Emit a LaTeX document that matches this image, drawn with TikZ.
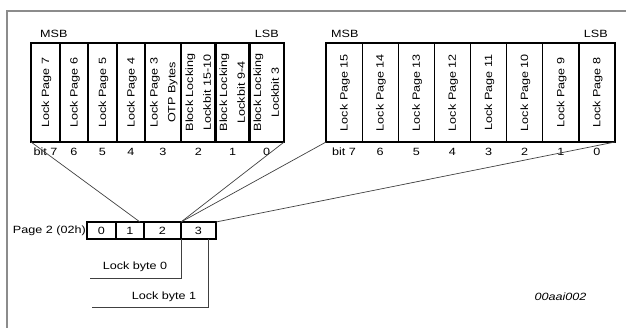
\documentclass[tikz,border=0pt]{standalone}
\usepackage{fontspec}
\setmainfont[FakeStretch=1.2]{Liberation Sans}
\usepackage{graphicx}
\tikzset{every node/.style={font=\fontsize{10.5}{12.6}\selectfont, inner sep=1pt},
  cell/.style={draw, line width=1.3pt, inner sep=0pt, outer sep=0pt, minimum height=99pt},
  bytecell/.style={draw, line width=1.3pt, inner sep=0pt, outer sep=0pt, minimum height=17pt},
  wire/.style={black!75, line width=0.7pt},
  frame/.style={black!45, line width=1.6pt}}
\newcommand\vlabel[1]{\rotatebox{90}{\renewcommand\arraystretch{1.4}\begin{tabular}{@{}c@{}}#1\end{tabular}}}

\begin{document}
\begin{tikzpicture}[x=1pt,y=-1pt]
  \useasboundingbox (0,0) rectangle (626,327);
  \draw[frame] (7,340) -- (7,11) -- (640,11);

  % lock byte 0
  \node[cell, minimum width=29pt] (l7) at ( 45.5,92.5) {\vlabel{Lock Page 7}};
  \node[cell, minimum width=28pt] (l6) at ( 74.0,92.5) {\vlabel{Lock Page 6}};
  \node[cell, minimum width=29pt] (l5) at (102.5,92.5) {\vlabel{Lock Page 5}};
  \node[cell, minimum width=28pt] (l4) at (131.0,92.5) {\vlabel{Lock Page 4}};
  \node[cell, minimum width=36pt] (l3) at (163.0,92.5) {\vlabel{Lock Page 3\\OTP Bytes}};
  \node[cell, minimum width=35pt] (l2) at (198.5,92.5) {\vlabel{Block Locking\\Lockbit 15-10}};
  \node[cell, minimum width=33pt] (l1) at (232.5,92.5) {\vlabel{Block Locking\\Lockbit 9-4}};
  \node[cell, minimum width=35pt] (l0) at (266.5,92.5) {\vlabel{Block Locking\\Lockbit 3}};
  \node[anchor=west, inner sep=0pt] (lmsb) at (40,34) {MSB};
  \node[anchor=east, inner sep=0pt] (llsb) at (279,34) {LSB};
  \node (bl7) at (l7 |- 0,152) {bit 7};
  \node (bl6) at (l6 |- 0,152) {6};
  \node (bl5) at (l5 |- 0,152) {5};
  \node (bl4) at (l4 |- 0,152) {4};
  \node (bl3) at (l3 |- 0,152) {3};
  \node (bl2) at (l2 |- 0,152) {2};
  \node (bl1) at (l1 |- 0,152) {1};
  \node (bl0) at (l0 |- 0,152) {0};

  % lock byte 1
  \node[cell, minimum width=36.1pt] (h7) at (344.1,92.5) {\vlabel{Lock Page 15}};
  \node[cell, minimum width=36.1pt] (h6) at (380.2,92.5) {\vlabel{Lock Page 14}};
  \node[cell, minimum width=36.1pt] (h5) at (416.3,92.5) {\vlabel{Lock Page 13}};
  \node[cell, minimum width=36.1pt] (h4) at (452.4,92.5) {\vlabel{Lock Page 12}};
  \node[cell, minimum width=36.1pt] (h3) at (488.6,92.5) {\vlabel{Lock Page 11}};
  \node[cell, minimum width=36.1pt] (h2) at (524.7,92.5) {\vlabel{Lock Page 10}};
  \node[cell, minimum width=36.1pt] (h1) at (560.8,92.5) {\vlabel{Lock Page 9}};
  \node[cell, minimum width=36.1pt] (h0) at (596.9,92.5) {\vlabel{Lock Page 8}};
  \node[anchor=west, inner sep=0pt] (hmsb) at (331,34) {MSB};
  \node[anchor=east, inner sep=0pt] (hlsb) at (608,34) {LSB};
  \node (bh7) at (h7 |- 0,152) {bit 7};
  \node (bh6) at (h6 |- 0,152) {6};
  \node (bh5) at (h5 |- 0,152) {5};
  \node (bh4) at (h4 |- 0,152) {4};
  \node (bh3) at (h3 |- 0,152) {3};
  \node (bh2) at (h2 |- 0,152) {2};
  \node (bh1) at (h1 |- 0,152) {1};
  \node (bh0) at (h0 |- 0,152) {0};

  % page 2
  \node[bytecell, minimum width=29pt] (p0) at (101.5,230.5) {0};
  \node[bytecell, minimum width=28pt] (p1) at (130.0,230.5) {1};
  \node[bytecell, minimum width=37pt] (p2) at (162.5,230.5) {2};
  \node[bytecell, minimum width=35pt] (p3) at (198.5,230.5) {3};
  \node[anchor=east] (pg) at (p0.west) {Page 2 (02h)};

  \draw[wire] (l7.south west) -- ([xshift=-4pt]p1.north east);
  \draw[wire] (l0.south east) -- (p3.north west);
  \draw[wire] (h7.south west) -- (p3.north west);
  \draw[wire] (h0.south east) -- (p3.north east);

  \coordinate (lb0end) at (90,278);
  \coordinate (lb1end) at (92,307);
  \draw[wire] (p3.south west) |- (lb0end);
  \draw[wire] ([xshift=-8pt]p3.south east) |- (lb1end);
  \node (lb0) at (135,267) {Lock byte 0};
  \node (lb1) at (164,297) {Lock byte 1};

  \node (fig) at (560.5,297) {\itshape 00aai002};
\end{tikzpicture}
\end{document}
